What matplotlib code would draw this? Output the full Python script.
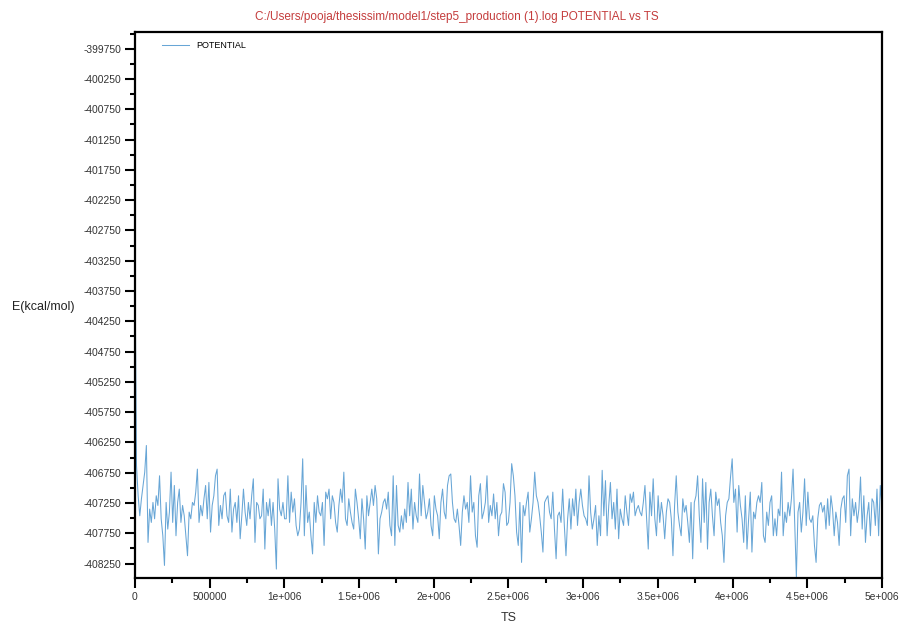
import numpy as np
import matplotlib
matplotlib.use("Agg")
import matplotlib.pyplot as plt
from matplotlib.ticker import MultipleLocator, FixedLocator

plt.rcParams['font.family'] = ['Liberation Sans', 'DejaVu Sans']

title = "C:/Users/pooja/thesissim/model1/step5_production (1).log POTENTIAL vs TS"
series_name = "POTENTIAL"
x_label = "TS"
y_label = "E(kcal/mol)"

x_ticks = [0, 500000, 1000000, 1500000, 2000000, 2500000, 3000000, 3500000, 4000000, 4500000, 5000000]
x_tick_labels = ["0", "500000", "1e+006", "1.5e+006", "2e+006", "2.5e+006", "3e+006",
                 "3.5e+006", "4e+006", "4.5e+006", "5e+006"]
y_ticks = list(range(-408250, -399749, 500))

ts_start = 0
ts_end = 5000000

potential_seg1 = [
    -403000, -406630, -407130, -407460, -407180, -406960, -406740, -406300, -407900, -407350,
    -407570, -407240, -407510, -407130, -407290, -406800, -407510, -407790, -408280, -407240,
    -407680, -407400, -406740, -407570, -406960, -407790, -407240, -407020, -407570, -407290,
    -407460, -407790, -408120, -407400, -407510, -407240, -407290, -407070, -406690, -407570,
    -407290, -407460, -407180, -406960, -407510, -406910, -407730, -407290, -407130, -406800,
    -406690, -407620, -407290, -407510, -407130, -407070, -407460, -407570, -407020, -407730,
    -407350, -407240, -407570, -407130, -407840, -407460, -407020, -407400, -407620, -407240,
    -407510, -407130, -406850, -407900, -407240, -407290, -407510, -407460, -407020, -408010,
    -407240, -407460, -407180, -407620, -407240, -407680, -408340, -406850, -407350, -407460,
    -407240, -407510,
]
potential_seg2 = [
    -407510, -406800, -407570, -407070, -407400, -407180, -407620, -407790, -407680, -407240,
    -406520, -407790, -406960, -407570, -407400, -407790, -408090, -407240, -407570, -407130,
    -407400, -407460, -407240, -407950, -407070, -407180, -407020, -407510, -407130, -407240,
    -407570, -407730, -407290, -407020, -407240, -406740, -407510, -407620, -407180, -407400,
    -407570, -407680, -407020, -407240, -407510, -407840, -407180, -407510, -408010, -407130,
    -407460, -407240, -407020, -407290, -406960, -407180, -408090, -407510, -407400, -407240,
    -407180, -407350, -407070, -407620, -407790, -406800, -407950, -406960, -407620, -407730,
    -407460, -407680, -407350, -407570, -406910, -407460, -407020, -407680, -407240, -407460,
    -407570, -406770, -407460, -406960, -407240, -407510, -407400, -407180, -407620, -407790,
    -407130, -407350,
]
potential_seg3 = [
    -407460, -407840, -407240, -407020, -407400, -407510, -406960, -406800, -406770, -407240,
    -407510, -407570, -407350, -407620, -407950, -407400, -407130, -407350, -407240, -407570,
    -406800, -407400, -407240, -407790, -407980, -407130, -406930, -407510, -407400, -407240,
    -406800, -407570, -407290, -407460, -407100, -407510, -407240, -407790, -407460, -407400,
    -406930, -407070, -407620, -407570, -407240, -406600, -406800, -407130, -407730, -407950,
    -407240, -408230, -407290, -407460, -407240, -407070, -407730, -407510, -407240, -406740,
    -407130, -407240, -407460, -407730, -408060, -407240, -407180, -407130, -407400, -407510,
    -407070, -407680, -408170, -407460, -407400, -407570, -407020, -407620, -408120, -407510,
    -407180, -407680, -407180, -407460, -407020, -407620, -407240, -407020, -407290, -407460,
]
potential_seg4 = [
    -407510, -407620, -406800, -407400, -407680, -407510, -407290, -407950, -407460, -407790,
    -406710, -407460, -406880, -407790, -407290, -406910, -407510, -407240, -407680, -407020,
    -407840, -407350, -407510, -407620, -407130, -407400, -407620, -407100, -407240, -407070,
    -407460, -407350, -407290, -407400, -407460, -407240, -406960, -407510, -408010, -407070,
    -407460, -406850, -407510, -407790, -407130, -407570, -407240, -407460, -407840, -407400,
    -407180, -407240, -407510, -408120, -407290, -406800, -407400, -407620, -407790, -407180,
    -407400, -407290, -407570, -407900, -407240, -408170, -407240, -407130, -406800, -407460,
    -407900, -406850, -407570, -406910, -408010, -407240, -407020, -407460, -407790, -407070,
    -407290, -407180, -407570, -407790, -408230, -407460, -407240, -407180, -406820, -406520,
]
potential_seg5 = [
    -407240, -407020, -407730, -406960, -407290, -407510, -407900, -407130, -408010, -407510,
    -407070, -408060, -407400, -407510, -407240, -407130, -407240, -406910, -407790, -407900,
    -407400, -407620, -407240, -407130, -407790, -407510, -407790, -407350, -407460, -406740,
    -407790, -407400, -407570, -407240, -407460, -407180, -406690, -407570, -408470, -407400,
    -407240, -407730, -407400, -406850, -407620, -407070, -407510, -407570, -407460, -407950,
    -408230, -407510, -407290, -407240, -407400, -407290, -407680, -407180, -407620, -407130,
    -407350, -407790, -407400, -407570, -407950, -407350, -407180, -407130, -407570, -406800,
    -406690, -407790, -407180, -407460, -407240, -407570, -407350, -406820, -407680, -407130,
    -407900, -407460, -407240, -407790, -407180, -407240, -407620, -407020, -407790, -406960,
    -407290,
]

potential = np.array(potential_seg1 + potential_seg2 + potential_seg3 + potential_seg4 + potential_seg5, dtype=float)
ts = np.linspace(ts_start, ts_end, len(potential))

fig = plt.figure(figsize=(8.99, 6.23), dpi=100)
ax = fig.add_axes([0.150, 0.072, 0.831, 0.877])

ax.plot(ts, potential, color='#68a6d6', lw=0.75, label=series_name)

ax.set_xlim(0, 5000000)
ax.set_ylim(-408490, -399470)

ax.xaxis.set_major_locator(FixedLocator(x_ticks))
ax.set_xticklabels(x_tick_labels)
ax.xaxis.set_minor_locator(MultipleLocator(250000))
ax.yaxis.set_major_locator(FixedLocator(y_ticks))
ax.set_yticklabels([str(v) for v in y_ticks])
ax.yaxis.set_minor_locator(MultipleLocator(250))

ax.tick_params(axis='both', which='major', direction='out', length=7, width=1.5,
               labelsize=7.4, colors='black', labelcolor='#333333', pad=3)
ax.tick_params(axis='both', which='minor', direction='out', length=3.5, width=1.5, colors='black')

for sp in ax.spines.values():
    sp.set_linewidth(1.6)
    sp.set_color('black')

ax.set_xlabel(x_label, fontsize=9, color='#333333', labelpad=7)
fig.text(0.013, 0.508, y_label, fontsize=9, color='#222222', ha='left', va='center')

fig.text(0.508, 0.973, title, fontsize=8.5, color='#c43c3c', ha='center', va='center')

leg = ax.legend(loc='upper left', frameon=False, fontsize=6.5, handlelength=3.0,
                borderaxespad=0.3, bbox_to_anchor=(0.028, 0.994))

fig.savefig('out.png', dpi=100, facecolor='white')
